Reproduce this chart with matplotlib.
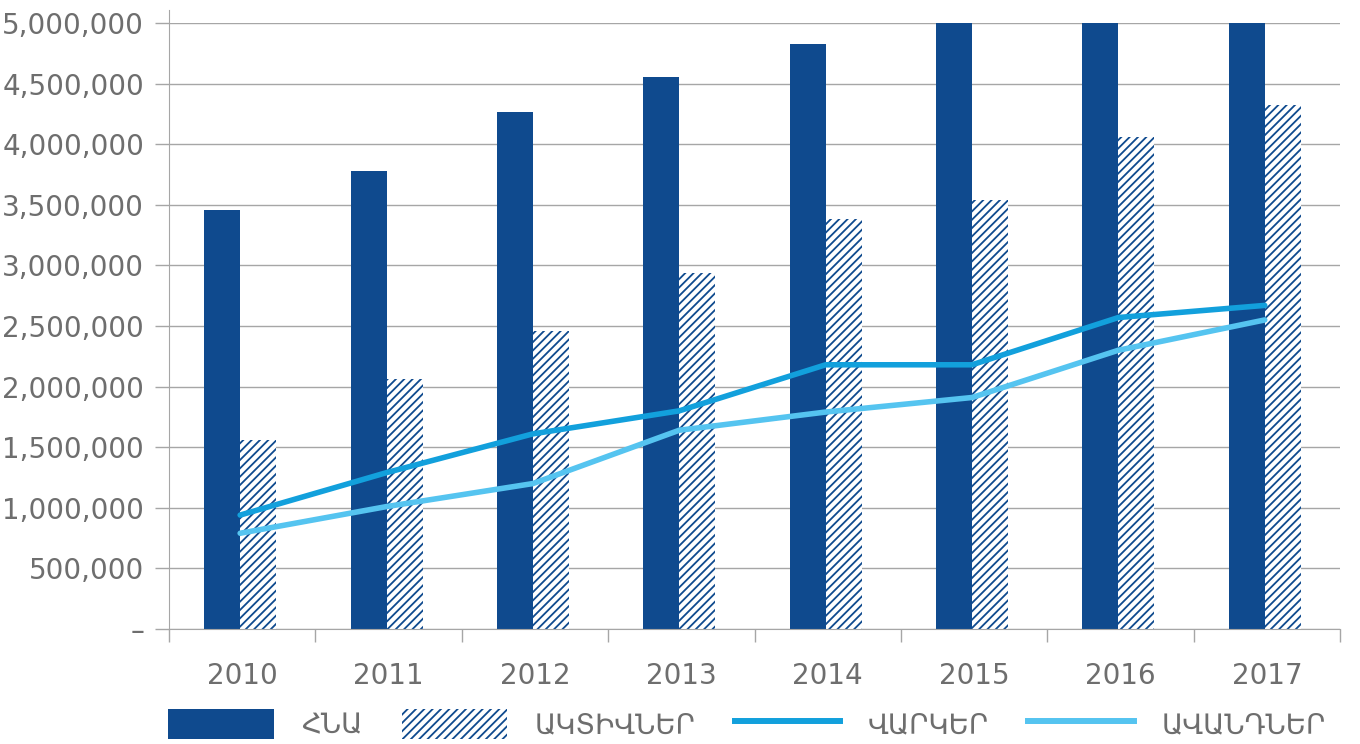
import matplotlib
matplotlib.use('Agg')
import matplotlib.pyplot as plt
import numpy as np
from matplotlib.patches import Patch
from matplotlib.lines import Line2D
from matplotlib.ticker import FuncFormatter

years = ['2010', '2011', '2012', '2013', '2014', '2015', '2016', '2017']
gdp = [3460203, 3777946, 4266461, 4555638, 4828626, 5043633, 5067294, 5564493]
assets = [1560000, 2060000, 2460000, 2940000, 3380000, 3540000, 4060000, 4320000]
loans = [940000, 1290000, 1610000, 1800000, 2180000, 2180000, 2570000, 2670000]
deposits = [790000, 1010000, 1200000, 1640000, 1790000, 1910000, 2300000, 2550000]
labels = ['ՀՆԱ', 'ԱԿՏԻՎՆԵՐ', 'ՎԱՐԿԵՐ', 'ԱՎԱՆԴՆԵՐ']

dark = '#0f4a8e'
c_loans = '#12a0dc'
c_dep = '#55c4f0'
grey = '#6e6e6e'
gridc = '#a6a6a6'

plt.rcParams['font.family'] = ['DejaVu Sans']
plt.rcParams['hatch.linewidth'] = 1.3

fig = plt.figure(figsize=(13.6, 7.44), dpi=100)
ax = fig.add_axes([169 / 1360, 115 / 744, 1171 / 1360, 606 / 744])

x = np.arange(len(years))
w = 0.246
shift = -0.014  # excel centres the group slightly left of the category centre
ax.bar(x - w / 2 + shift, gdp, w, color=dark, zorder=2)
ax.bar(x + w / 2 + shift, assets, w, color='white', edgecolor=dark, hatch='////', linewidth=0, zorder=2)
ax.plot(x + shift, loans, color=c_loans, lw=4.0, solid_capstyle='round', zorder=3)
ax.plot(x + shift, deposits, color=c_dep, lw=4.0, solid_capstyle='round', zorder=3)

ax.set_xlim(-0.5, 7.5)
ax.set_ylim(0, 5000000)
ax.set_yticks(np.arange(0, 5000001, 500000))
ax.yaxis.set_major_formatter(FuncFormatter(lambda v, p: '–' if v == 0 else f'{int(v):,}'))
ax.yaxis.grid(True, color=gridc, lw=1)
ax.set_axisbelow(True)

ax.set_xticks(x)
ax.set_xticklabels(years)
ax.set_xticks(np.arange(-0.5, 8, 1), minor=True)
ax.tick_params(axis='x', which='major', length=0, pad=24, labelsize=20, labelcolor=grey)
ax.tick_params(axis='x', which='minor', length=9.5, color=gridc, width=1)
ax.tick_params(axis='y', length=10, color=gridc, width=1, pad=8, labelsize=20, labelcolor=grey)

for s in ['top', 'right']:
    ax.spines[s].set_visible(False)
ax.spines['left'].set_color(gridc)
ax.spines['bottom'].set_color(gridc)
ax.spines['left'].set_bounds(0, 5110000)

handles = [
    Patch(facecolor=dark, edgecolor=dark, linewidth=0),
    Patch(facecolor='white', edgecolor=dark, hatch='////', linewidth=0),
    Line2D([], [], color=c_loans, lw=4.3),
    Line2D([], [], color=c_dep, lw=4.3),
]
leg = fig.legend(handles, labels, loc='center left', bbox_to_anchor=(168 / 1360, 20 / 744),
                 ncol=4, frameon=False, handlelength=3.8, handleheight=1.3,
                 handletextpad=1.0, columnspacing=1.4, borderaxespad=0, borderpad=0,
                 prop={'size': 20})
for t in leg.get_texts():
    t.set_color(grey)

fig.savefig('out.png', dpi=100)
